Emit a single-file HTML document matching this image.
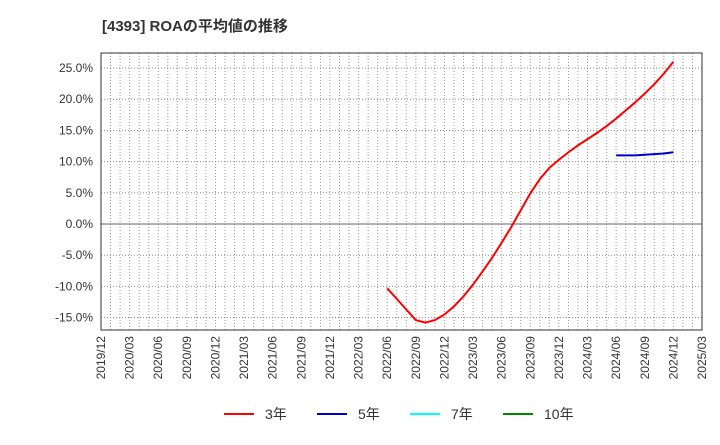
<!DOCTYPE html>
<html><head><meta charset="utf-8"><style>
body{margin:0;background:#fff;font-family:"Liberation Sans","Noto Sans CJK JP",sans-serif;}
</style></head><body>
<svg width="720" height="440" xmlns="http://www.w3.org/2000/svg" font-family="Liberation Sans, Noto Sans CJK JP, sans-serif">
<text x="102" y="31" font-size="15" font-weight="bold" fill="#333">[4393]  ROAの平均値の推移</text>
<g id="grid"></g><g id="axes"></g><g id="series"></g>
<rect x="101" y="53" width="601" height="277" fill="none" stroke="#333" stroke-width="1"/>
<g id="legend"></g>
</svg>
<script>
const xLabels=["2019/12","2020/03","2020/06","2020/09","2020/12","2021/03","2021/06","2021/09","2021/12","2022/03","2022/06","2022/09","2022/12","2023/03","2023/06","2023/09","2023/12","2024/03","2024/06","2024/09","2024/12","2025/03"];
const yTicks=[25,20,15,10,5,0,-5,-10,-15];
const red3Start=30;
const red3=[-10.3,-12,-13.7,-15.4,-15.8,-15.4,-14.5,-13.2,-11.6,-9.7,-7.6,-5.4,-3.0,-0.5,2.2,4.9,7.2,9.0,10.3,11.5,12.6,13.6,14.6,15.7,16.9,18.2,19.5,20.9,22.4,24.1,26.0];
const blue5Start=54;
const blue5=[11.0,11.0,11.0,11.1,11.2,11.3,11.5];
const NS="http://www.w3.org/2000/svg";
const L=101,R=702,T=53,B=330;
const xm=m=>L+(R-L)*m/63;
const yv=v=>224-v*6.24;
function mk(t,a,p){const e=document.createElementNS(NS,t);for(const k in a)e.setAttribute(k,a[k]);p.appendChild(e);return e;}
const grid=document.getElementById('grid'),axes=document.getElementById('axes'),ser=document.getElementById('series'),leg=document.getElementById('legend');
for(let m=1;m<63;m++){const x=xm(m);const l=mk('line',{x1:x,x2:x,y1:T,y2:B,stroke:'#999','stroke-width':1,'stroke-dasharray':'1,2'},grid);

}
yTicks.forEach(v=>{const y=yv(v);const l=mk('line',{x1:L,x2:R,y1:y,y2:y,stroke:v===0?'#666':'#888','stroke-width':1,'stroke-dasharray':v===0?'none':'1,2'},grid);


const t=mk('text',{x:L-8,y:y+4,'text-anchor':'end','font-size':12,fill:'#333'},axes);t.textContent=v.toFixed(1)+'%';

});
xLabels.forEach((s,i)=>{const x=xm(i*3);const t=mk('text',{x:0,y:0,'text-anchor':'end','font-size':12,fill:'#333',transform:`translate(${x+4},${B+6}) rotate(-90)`},axes);t.textContent=s;

});
function line(data,start,col,name){const p=data.map((v,i)=>xm(start+i)+','+yv(v)).join(' ');const e=mk('polyline',{points:p,fill:'none',stroke:col,'stroke-width':2},ser);

}
line(red3,red3Start,'#f00','series-3yr');
line(blue5,blue5Start,'#00c','series-5yr');
[["3年","#f00",224],["5年","#00c",317],["7年","#0ff",410],["10年","#080",503]].forEach(([n,c,x])=>{
const g=mk('g',{},leg);


mk('line',{x1:x,x2:x+30,y1:414,y2:414,stroke:c,'stroke-width':2},g);
const t=mk('text',{x:x+41,y:419,'font-size':14,fill:'#333'},g);t.textContent=n;});
</script>
</body></html>
